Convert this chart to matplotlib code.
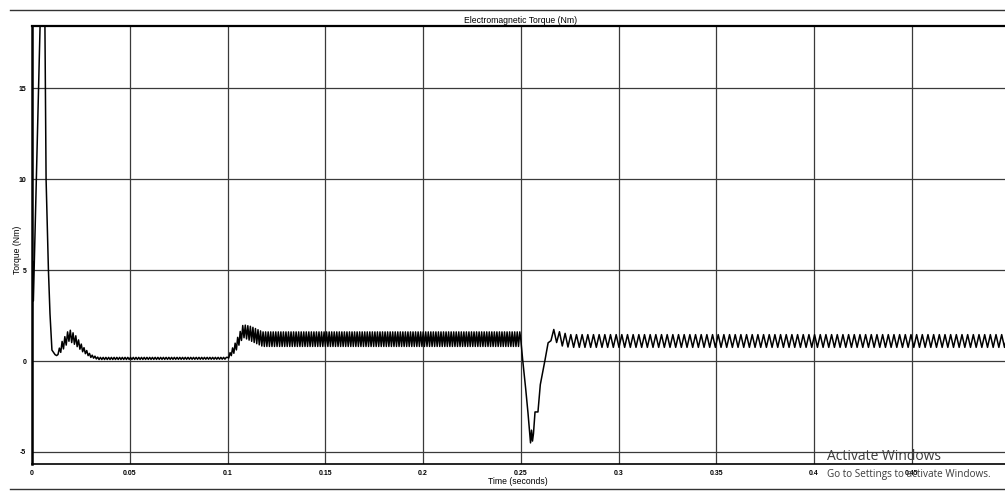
"""Electromagnetic torque trace (Simulink scope style)."""

import numpy as np
import matplotlib

matplotlib.use("Agg")
import matplotlib.pyplot as plt
from matplotlib.lines import Line2D

# ---- data ----------------------------------------------------------------
# start-up spike (plain points)
spike_t = [0.0, 0.0003, 0.0007, 0.0054, 0.0066, 0.0072, 0.0084, 0.0092,
           0.0102, 0.0118, 0.0126]
spike_v = [0.0, 5.5, 3.3, 24.0, 18.6, 10.0, 5.0, 2.6, 0.6, 0.35, 0.3]

# rippling stretches: envelope keypoints (time, upper, lower) and ripple period
ripple_a_t = [0.0126, 0.015, 0.019, 0.022, 0.026, 0.030, 0.034, 0.1]
ripple_a_hi = [0.3, 1.0, 1.75, 1.45, 0.8, 0.35, 0.2, 0.2]
ripple_a_lo = [0.3, 0.5, 1.1, 0.9, 0.5, 0.2, 0.08, 0.1]
ripple_a_period = 0.0014

ripple_b_t = [0.1, 0.104, 0.108, 0.112, 0.118, 0.25]
ripple_b_hi = [0.2, 1.0, 2.0, 1.9, 1.6, 1.6]
ripple_b_lo = [0.1, 0.5, 1.3, 1.1, 0.8, 0.8]
ripple_b_period = 0.0013

# load-step dip (plain points)
dip_t = [0.25, 0.251, 0.2525, 0.2537, 0.2545, 0.2550, 0.2555, 0.2560,
         0.2565, 0.2573, 0.2588, 0.26, 0.2624, 0.264]
dip_v = [1.2, 0.05, -1.5, -2.85, -3.9, -4.5, -3.8, -4.4, -4.0, -2.8, -2.8,
         -1.3, 0.05, 1.0]

ripple_c_t = [0.264, 0.2665, 0.27, 0.275, 0.5]
ripple_c_hi = [1.0, 1.75, 1.6, 1.45, 1.45]
ripple_c_lo = [1.0, 1.2, 0.85, 0.75, 0.75]
ripple_c_period = 0.0029

x_ticks = [0, 0.05, 0.1, 0.15, 0.2, 0.25, 0.3, 0.35, 0.4, 0.45, 0.5]
x_labels = ["0", "0.05", "0.1", "0.15", "0.2", "0.25", "0.3", "0.35",
            "0.4", "0.45", "0.5"]
y_ticks = [-5, 0, 5, 10, 15]
y_labels = ["-5", "0", "5", "10", "15"]


def zigzag(t_keys, hi_keys, lo_keys, period):
    """Alternate between upper and lower envelope every half period."""
    t = np.arange(t_keys[0], t_keys[-1], period / 2)
    hi = np.interp(t, t_keys, hi_keys)
    lo = np.interp(t, t_keys, lo_keys)
    v = np.where(np.arange(len(t)) % 2 == 0, hi, lo)
    return t, v


parts_t, parts_v = [np.array(spike_t)], [np.array(spike_v)]
for tk, hk, lk, p in [(ripple_a_t, ripple_a_hi, ripple_a_lo, ripple_a_period),
                      (ripple_b_t, ripple_b_hi, ripple_b_lo, ripple_b_period)]:
    zt, zv = zigzag(tk, hk, lk, p)
    parts_t.append(zt)
    parts_v.append(zv)
parts_t.append(np.array(dip_t))
parts_v.append(np.array(dip_v))
zt, zv = zigzag(ripple_c_t, ripple_c_hi, ripple_c_lo, ripple_c_period)
parts_t.append(zt)
parts_v.append(zv)

time = np.concatenate(parts_t)
torque = np.concatenate(parts_v)

# ---- figure ---------------------------------------------------------------
W, H = 1005, 492
AX_W = 1009.5 - 32
AX_H = 464 - 26
fig = plt.figure(figsize=(W / 100, H / 100), dpi=100)
ax = fig.add_axes([32 / W, 1 - 464 / H, AX_W / W, AX_H / H])

ax.plot(time, torque, color="black", lw=1.1, clip_on=True)
ax.set_xlim(0, 0.5)
ax.set_ylim(-5.66, 18.41)

ax.set_xticks(x_ticks)
ax.set_xticklabels(x_labels)
ax.set_yticks(y_ticks)
ax.set_yticklabels(y_labels)
ax.tick_params(length=0, labelsize=5, pad=4)
for lab in ax.get_xticklabels() + ax.get_yticklabels():
    lab.set_fontweight("bold")
    lab.set_family("Liberation Sans")

ax.grid(True, color="#3a3a3a", lw=0.9)
ax.set_axisbelow(True)
for side in ["left", "top", "bottom", "right"]:
    ax.spines[side].set_color("black")
ax.spines["left"].set_linewidth(1.8)
ax.spines["top"].set_linewidth(1.6)
ax.spines["bottom"].set_linewidth(1.2)

ax.set_title("Electromagnetic Torque (Nm)", fontsize=6.2, pad=2,
             family="Liberation Sans")
ax.set_xlabel("Time (seconds)", fontsize=6.2, family="Liberation Sans")
ax.set_ylabel("Torque (Nm)", fontsize=6.2, family="Liberation Sans")
ax.xaxis.set_label_coords((518 - 32) / AX_W, -(482 - 464) / AX_H)
ax.yaxis.set_label_coords((17 - 32) / AX_W, (464 - 250) / AX_H)
ax.xaxis.label.set_va("center")
ax.yaxis.label.set_va("center")

# scope window borders
fig.add_artist(Line2D([10 / W, 1], [1 - 10 / H] * 2, color="#333333", lw=1.0))
fig.add_artist(Line2D([10 / W, 1], [1 - 489 / H] * 2, color="#333333", lw=1.0))

# Windows watermark
fig.text(827 / W, 1 - 457 / H, "Activate Windows", fontsize=10,
         color="#3c3c3c", family="Open Sans", va="center")
fig.text(827 / W, 1 - 474 / H, "Go to Settings to activate Windows.",
         fontsize=7.2, color="#3c3c3c", family="Open Sans", va="center")

fig.savefig("out.png", dpi=100)
